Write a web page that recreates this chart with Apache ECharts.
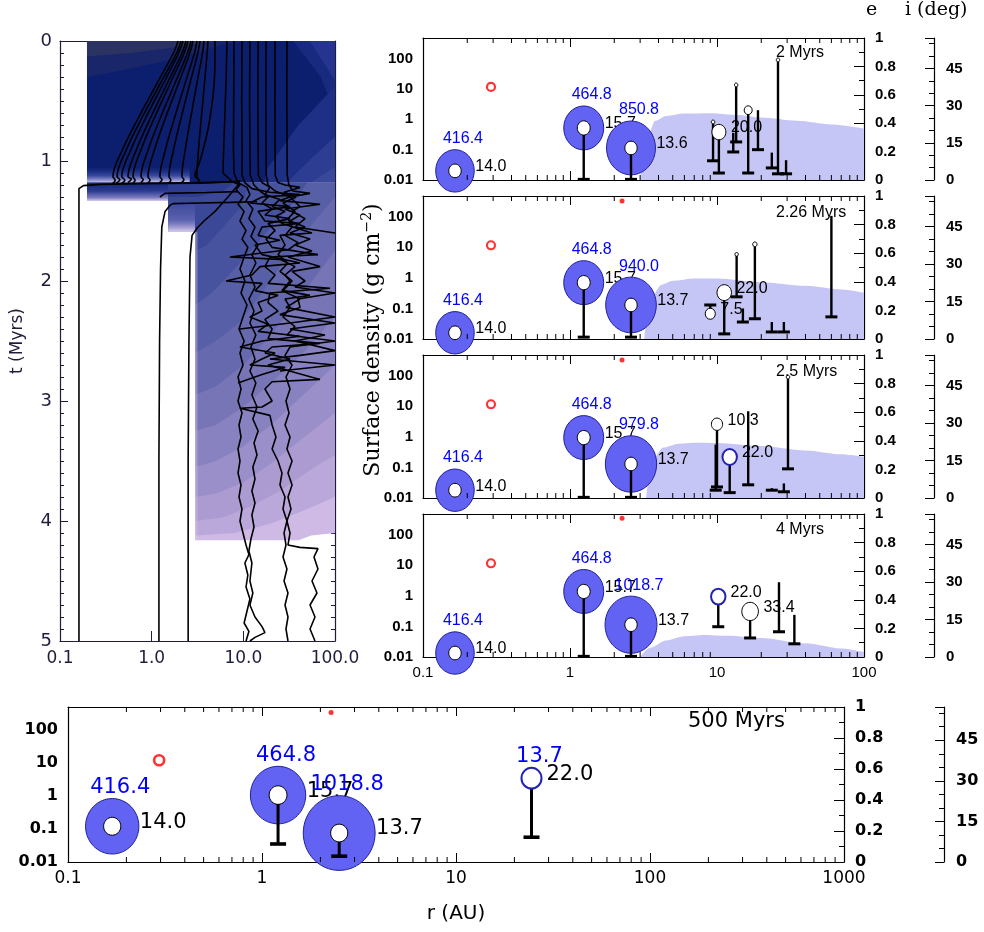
<!DOCTYPE html>
<html><head><meta charset="utf-8">
<script src="https://cdn.jsdelivr.net/npm/echarts/dist/echarts.min.js"></script>
<style>html,body{margin:0;padding:0;background:#fff}#c{width:984px;height:932px}</style>
</head><body><div id="c"></div>
<script>
// ---------------- DATA ----------------
// Left panel: planet tracks, [r (AU), t (Myrs)]
const curveTracks = [
 [[1.94,0],[1.73,0.1],[1.15,0.35],[0.705,0.65],[0.484,0.9],[0.378,1.13],[0.40,1.16],[0.37,1.19]],
 [[2.09,0],[1.87,0.1],[1.25,0.35],[0.77,0.65],[0.533,0.9],[0.419,1.13],[0.45,1.155],[0.41,1.185]],
 [[2.20,0],[1.97,0.1],[1.35,0.35],[0.849,0.65],[0.598,0.9],[0.472,1.13],[0.51,1.16],[0.47,1.185]],
 [[2.37,0],[2.14,0.1],[1.485,0.35],[0.959,0.65],[0.687,0.9],[0.552,1.13],[0.60,1.15],[0.55,1.18]],
 [[2.49,0],[2.26,0.1],[1.60,0.35],[1.057,0.65],[0.77,0.9],[0.626,1.13],[0.66,1.16],[0.62,1.185]],
 [[2.69,0],[2.46,0.1],[1.80,0.35],[1.23,0.65],[0.923,0.9],[0.765,1.13],[0.81,1.155],[0.76,1.18]],
 [[2.82,0],[2.61,0.1],[1.97,0.35],[1.40,0.65],[1.08,0.9],[0.912,1.13],[0.96,1.16],[0.90,1.185]],
 [[3.12,0],[2.93,0.1],[2.32,0.35],[1.76,0.65],[1.42,0.9],[1.23,1.13],[1.30,1.155],[1.22,1.18]],
 [[3.37,0],[3.19,0.1],[2.62,0.35],[2.08,0.65],[1.74,0.9],[1.545,1.13],[1.62,1.16],[1.53,1.185]],
 [[3.72,0],[3.59,0.1],[3.12,0.35],[2.65,0.65],[2.33,0.9],[2.14,1.13],[2.25,1.155],[2.12,1.18]],
 [[4.11,0],[4.03,0.1],[3.77,0.35],[3.47,0.65],[3.25,0.9],[3.12,1.13],[3.30,1.16],[3.10,1.19]],
 [[4.91,0],[4.85,0.3],[4.20,0.7],[3.37,1.0],[2.97,1.12],[3.20,1.15]]
];
const trackA = [[6.63,0],[6.5,0.3],[6.3,0.6],[6.1,0.9],[6.0,1.1],[7.52,1.17],[9.19,1.2],[8.32,1.24],[9.92,1.3],[8.75,1.36],[10.2,1.42],[9.19,1.5],[10.7,1.58],[9.67,1.65],[11.2,1.72],[10.2,1.8],[9.19,1.9],[10.4,2.0],[9.43,2.1],[10.97,2.2],[9.92,2.3],[8.97,2.4],[10.2,2.5],[9.19,2.6],[9.92,2.7],[8.75,2.8],[9.43,2.9],[8.75,3.0],[9.67,3.1],[8.97,3.2],[9.43,3.3],[8.75,3.4],[9.19,3.5],[8.75,3.6],[9.43,3.7],[8.97,3.8],[9.67,3.9],[9.19,4.0],[9.92,4.1],[10.7,4.2],[11.5,4.28],[10.4,4.35],[11.2,4.45],[10.7,4.55],[11.8,4.65],[10.97,4.75],[10.2,4.85],[11.5,4.92],[10.7,5.0]];
const trackB = [[7.91,0],[7.85,0.5],[7.8,0.9],[7.91,1.1],[8.75,1.18],[10.97,1.22],[11.8,1.28],[10.7,1.33],[12.7,1.4],[11.5,1.48],[13.4,1.55],[12.1,1.63],[14.5,1.7],[12.4,1.78],[13.7,1.85],[11.8,1.95],[13.4,2.05],[11.5,2.15],[13.07,2.25],[11.8,2.35],[13.7,2.45],[12.1,2.55],[13.4,2.65],[11.8,2.75],[13.7,2.85],[12.4,2.95],[14.1,3.05],[12.7,3.15],[14.5,3.25],[13.07,3.35],[14.1,3.45],[12.7,3.55],[13.4,3.65],[12.4,3.75],[13.4,3.85],[12.4,3.95],[13.07,4.05],[12.1,4.15],[11.5,4.25],[12.4,4.35],[11.8,4.5],[12.7,4.6],[11.8,4.7],[13.4,4.8],[16.0,4.88],[17.2,4.93],[13.4,4.97],[11.8,5.0]];
const trackC = [[9.67,0],[9.6,0.5],[9.7,0.9],[9.67,1.12],[10.4,1.18],[12.4,1.23],[19.5,1.26],[41.5,1.28],[16.0,1.3],[11.8,1.35],[32.3,1.38],[14.5,1.42],[17.2,1.5],[41.5,1.52],[16.0,1.55],[14.5,1.62],[25.1,1.66],[13.4,1.7],[16.0,1.78],[41.5,1.85],[15.2,1.88],[12.4,1.95],[6.47,2.0],[16.0,2.02],[13.4,2.08],[23.9,2.12],[14.5,2.18],[16.0,2.25],[11.8,2.3],[18.6,2.36],[14.5,2.42],[41.5,2.46],[16.0,2.5],[9.19,2.55],[22.2,2.6],[16.0,2.65],[11.8,2.7],[28.5,2.72],[16.0,2.78],[8.75,2.85]];
const trackD = [[11.8,0],[11.7,0.5],[11.8,0.9],[11.9,1.12],[13.07,1.2],[15.2,1.25],[18.6,1.3],[16.0,1.35],[20.6,1.4],[17.2,1.45],[32.3,1.48],[18.6,1.52],[22.2,1.58],[17.7,1.65],[20.6,1.72],[65.2,1.78],[19.5,1.8],[17.2,1.88],[22.2,1.95],[18.6,2.02],[88.2,2.06],[19.5,2.1],[18.6,2.18],[23.9,2.25],[17.2,2.32],[20.6,2.4],[18.6,2.48],[68.6,2.52],[20.6,2.55],[17.2,2.6],[32.3,2.65],[18.6,2.7],[68.6,2.82],[20.6,2.84],[17.2,2.9],[20.6,3.0],[16.0,3.05],[9.19,3.06],[19.5,3.12],[20.6,3.2],[22.7,3.3],[20.6,3.4],[23.9,3.5],[26.4,3.6],[25.1,3.7],[28.5,3.8],[27.1,3.9],[29.9,4.0],[27.8,4.1],[29.2,4.2],[27.1,4.3],[29.9,4.4],[27.8,4.5],[30.7,4.6],[28.5,4.7],[30.7,4.8],[29.2,4.9],[30.7,5.0]];
const trackE = [[14.5,0],[14.4,0.5],[14.5,0.9],[14.6,1.12],[16.0,1.18],[19.5,1.22],[17.2,1.28],[25.1,1.32],[20.6,1.38],[28.5,1.42],[22.7,1.46],[26.4,1.52],[56.1,1.6],[25.1,1.62],[28.5,1.7],[23.9,1.78],[30.7,1.85],[25.1,1.92],[34.0,2.0],[27.1,2.08],[53.4,2.12],[28.5,2.15],[32.3,2.22],[27.1,2.3],[36.6,2.38],[29.9,2.45],[100,2.5],[32.3,2.55],[28.5,2.62],[34.0,2.7],[29.2,2.8],[32.3,2.9],[29.2,3.0],[31.5,3.1],[28.5,3.2],[32.3,3.3],[29.9,3.4],[34.0,3.5],[30.7,3.6],[34.0,3.7],[30.7,3.8],[33.1,3.9],[29.9,4.0],[32.3,4.1],[30.7,4.2],[41.5,4.22],[65.2,4.23],[59.0,4.3],[65.2,4.4],[56.1,4.5],[63.6,4.6],[53.4,4.7],[60.5,4.8],[53.4,4.9],[60.5,5.0]];
const trackF = [[17.7,0],[17.6,0.5],[17.7,0.9],[17.8,1.12],[18.6,1.2],[22.2,1.25],[32.3,1.3],[25.1,1.33],[68.6,1.36],[28.5,1.4],[41.5,1.45],[32.3,1.5],[47.1,1.55],[32.3,1.6],[53.4,1.65],[36.6,1.7],[56.1,1.75],[30.7,1.8],[68.6,1.88],[34.0,1.92],[47.1,2.0],[36.6,2.05],[100,2.1],[39.5,2.15],[41.5,2.22],[25.1,2.28],[100,2.35],[32.3,2.4],[77.8,2.45],[36.6,2.5],[100,2.58],[41.5,2.62],[19.5,2.65],[100,2.7],[25.1,2.75]];
const trackG = [[22.2,0],[22.1,0.5],[22.2,0.9],[22.3,1.12],[23.9,1.18],[28.5,1.2],[41.5,1.22],[27.8,1.26],[37.5,1.3],[27.1,1.35],[36.6,1.42],[30.7,1.48],[34.0,1.55],[28.5,1.62],[39.5,1.68],[30.7,1.74],[7.15,1.8],[25.1,1.82],[36.6,1.88],[28.5,1.95],[32.3,2.0],[26.4,2.08],[41.5,2.15],[29.2,2.22],[100,2.3],[32.3,2.35],[9.19,2.4]];
const trackH = [[29.9,0],[29.8,0.5],[30.0,0.9],[30.1,1.12],[31.5,1.2],[34.8,1.25],[53.4,1.27],[32.3,1.3],[41.5,1.38],[34.0,1.42],[47.1,1.48],[36.6,1.55],[100,1.6]];
const hotTrack = [[9.19,1.17],[3.37,1.185],[0.6,1.19],[0.273,1.195],[0.18,1.205],[0.161,1.23],[0.161,5]];
const linkTrack = [[0.37,1.19],[1.0,1.185],[3.0,1.18],[7.5,1.175]];
const innerGiantTrack = [[14.1,1.34],[7.15,1.345],[3.37,1.35],[1.71,1.355],[1.58,1.37],[1.40,1.42],[1.29,1.55],[1.25,1.9],[1.22,2.5],[1.20,3.5],[1.20,5]];
const outerGiantTrack = [[9.19,1.16],[8.75,1.2],[6.8,1.3],[4.91,1.42],[3.72,1.5],[3.12,1.56],[2.76,1.62],[2.62,1.8],[2.55,2.5],[2.5,3.5],[2.5,5]];
const scatterTrack = [[1.23,1.3],[1.4,1.27],[4.0,1.262],[8.75,1.255]];

// Left panel: surface-density field regions, [r, t]
const fieldTop = [[0.197,0],[100,0],[100,1.18],[0.197,1.18]];
const fieldTopGrayOuter = [[0.197,0],[10,0],[6,0.03],[3,0.1],[1.2,0.18],[0.5,0.24],[0.197,0.3]];
const fieldTopGrayInner = [[0.197,0],[5,0],[3,0.025],[1.5,0.06],[0.6,0.1],[0.197,0.13]];
const fieldTopRight1 = [[35,0],[100,0],[100,0.6],[70,0.3]];
const fieldTopRight2 = [[53,0],[100,0],[100,0.33]];
const fieldBR1 = [[17,1.18],[18,1.07],[40,0.7],[100,0.38],[100,1.18]];
const fieldBR2 = [[30,1.18],[55,0.98],[100,0.8],[100,1.18]];
const fieldBR3 = [[55,1.18],[100,1.05],[100,1.18]];
const fieldTopEdge = [[0.197,1.05],[2.6,1.05],[2.6,1.18],[0.197,1.18]];
const fieldStrip = [[0.197,1.18],[1.51,1.18],[1.51,1.333],[0.197,1.333]];
const fieldLower = [[1.51,1.18],[100,1.18],[100,4.1],[55,4.12],[40,4.16],[1.51,4.16]];
const fieldContours = [
 [[2.97,4.12],[8,4.1],[20,4.02],[50,3.9],[100,3.8]],
 [[2.97,4.0],[6,3.97],[12,3.88],[25,3.75],[60,3.55],[100,3.45]],
 [[2.97,3.8],[5,3.77],[10,3.68],[20,3.52],[50,3.28],[100,3.1]],
 [[2.97,3.55],[5,3.5],[10,3.38],[20,3.2],[45,2.95],[100,2.7]],
 [[2.97,3.25],[5,3.2],[10,3.05],[20,2.85],[45,2.6],[100,2.3]],
 [[2.97,2.95],[5,2.88],[10,2.7],[20,2.45],[40,2.15],[100,1.75]],
 [[2.97,2.6],[5,2.5],[9,2.35],[16,2.1],[30,1.8],[60,1.5],[100,1.3]],
 [[2.97,2.2],[4.5,2.1],[7,1.95],[12,1.75],[20,1.55],[35,1.35],[50,1.18]],
 [[2.97,1.75],[4,1.7],[6,1.55],[9,1.4],[12,1.18]],
 [[1.51,1.3],[3,1.3],[6,1.25],[8,1.18]]
];
const fieldStep = [[1.51,1.333],[2.97,1.333],[2.97,1.59],[1.51,1.59]];
const fieldLeftHalo = [[2.97,1.59],[3.25,1.59],[3.25,4.16],[2.97,4.16]];
const fieldNotch = [[1.3,1.59],[2.97,1.59],[2.97,4.6],[1.3,4.6]];

// Right panels: planets [r (AU), surface density, stem end, envelope mass, core mass]
const planets2 = [
 [0.165,0.020,null,416.4,14.0],[1.24,0.52,0.0105,464.8,15.7],[2.6,0.114,0.0105,850.8,13.6],
 [9.4,0.82,0.043,0,0.3],[10.3,0.38,0.017,0,20.0],[12.9,0.36,0.084,0,0],[13.5,13.6,0.18,0,0.3],
 [16.3,2.0,0.017,0,3.7],[19.0,2.0,0.10,0,0],[23.6,0.08,0.025,0,0],[26.0,91,0.016,0,0.3],[29.5,0.045,0.016,0,0]
];
const planets226 = [
 [0.165,0.016,null,416.4,14.0],[1.24,0.70,0.0115,464.8,15.7],[2.6,0.13,0.0115,940.0,13.7],
 [9.0,0.067,0.13,0,7.5],[11.2,0.33,0.0147,0,22.0],[13.6,5.9,0.24,0,0.3],[15.0,0.1,0.036,0,0],
 [18.1,12.6,0.046,0,0.6],[23.6,0.036,0.017,0,0],[28.5,0.036,0.017,0,0],[60,107,0.053,0,0]
];
const planets25 = [
 [0.165,0.018,null,416.4,14.0],[1.24,0.95,0.0105,464.8,15.7],[2.6,0.13,0.0105,979.8,13.7],
 [9.8,0.56,0.018,0,0],[10.0,2.6,0.023,0,10.3],[12.2,0.22,0.015,2.0,22.0],[16.3,6.9,0.027,0,0],
 [23.6,0.021,0.018,0,0],[28.5,0.03,0.016,0,0],[30.4,91,0.09,0,0.3]
];
const planets4 = [
 [0.165,0.0135,null,416.4,14.0],[1.24,1.4,0.0105,464.8,15.7],[2.6,0.114,0.0105,1018.7,13.7],
 [10.2,0.95,0.098,2.0,22.0],[16.8,0.31,0.042,0,33.4],[26.4,2.8,0.067,0,0],[33.6,0.24,0.027,0,0]
];
const planets500 = [
 [0.169,0.12,null,416.4,14.0],[1.21,1.05,0.035,464.8,15.7],[2.5,0.075,0.015,1018.8,13.7],[24.5,3.4,0.056,13.7,22.0]
];
// Gas surface density profiles [r, sigma]
const gas2 = [[3.0,0.01],[3.15,0.05],[3.4,0.3],[3.8,0.9],[4.5,1.3],[6,1.55],[9,1.6],[14,1.4],[20,1.15],[35,0.9],[60,0.68],[100,0.5]];
const gas226 = [[3.2,0.01],[3.35,0.05],[3.6,0.25],[4.2,0.6],[5,0.8],[7,0.95],[10,0.95],[20,0.72],[40,0.55],[70,0.42],[100,0.33]];
const gas25 = [[3.3,0.01],[3.45,0.05],[3.7,0.2],[4.3,0.45],[5.5,0.6],[7,0.64],[10,0.63],[20,0.5],[40,0.36],[70,0.27],[100,0.22]];
const gas4 = [[3.0,0.01],[3.5,0.02],[4.5,0.035],[6,0.048],[8,0.053],[12,0.05],[20,0.042],[40,0.028],[70,0.019],[100,0.0145]];
const iceRing = [[0.29,11.7]];
const iceRing500 = [[0.295,11.8]];
const redDot226 = [[2.26,330]], redDot25 = [[2.26,330]], redDot4 = [[2.26,350]], redDot500 = [[2.27,330]];
const panelTimes = ['2 Myrs','2.26 Myrs','2.5 Myrs','4 Myrs','500 Myrs'];

// ---------------- CHART ----------------
const SANS = 'Liberation Sans';
const WIDE = 'DejaVu Sans';
const SERIF = 'DejaVu Serif';
const LEFTC = '#1e1e3c';
const chart = echarts.init(document.getElementById('c'), null, {renderer:'canvas'});
const LG = (stops, h) => new echarts.graphic.LinearGradient(0,0,h?1:0,h?0:1, stops.map(c => ({offset:c[0], color:c[1]})));

const grids = [
 {left:60, top:41, width:275, height:600},
 {left:423, top:38, width:441, height:142},
 {left:423, top:196, width:441, height:143},
 {left:423, top:355, width:441, height:143},
 {left:423, top:514, width:441, height:143},
 {left:68, top:707, width:776, height:155}
].map(g => Object.assign({containLabel:false, outerBoundsMode:'none'}, g));

const decadeLabel = v => { const e = Math.round(Math.log10(v)); return e < 0 ? (e === -1 ? '0.1' : '0.01') : String(Math.pow(10, e)); };
const decadeOnly = v => { const l = Math.log10(v); return Math.abs(l - Math.round(l)) > 1e-6 ? '' : decadeLabel(v); };
const line = (c, w) => ({show:true, onZero:false, lineStyle:{color:c, width:w || 1.2}});

const xAxes = [], yAxes = [];
// left panel
xAxes.push({gridIndex:0, type:'log', min:0.1, max:100, position:'bottom', axisLine:line(LEFTC),
  axisTick:{show:true, inside:true, length:10, lineStyle:{color:LEFTC}}, splitLine:{show:false},
  axisLabel:{margin:9, color:LEFTC, fontFamily:WIDE, fontSize:17,
    formatter: v => ({'-1':'0.1','0':'1.0','1':'10.0','2':'100.0'})[Math.round(Math.log10(v))] || ''}});
xAxes.push({gridIndex:0, type:'log', min:0.1, max:100, position:'top', axisLine:line(LEFTC),
  axisTick:{show:true, inside:true, length:10, lineStyle:{color:LEFTC}}, axisLabel:{show:false}, splitLine:{show:false}});
yAxes.push({gridIndex:0, type:'value', inverse:true, min:0, max:5, interval:1, position:'left', axisLine:line(LEFTC),
  axisTick:{show:true, inside:true, length:8, lineStyle:{color:LEFTC}}, minorTick:{show:true, splitNumber:10, length:4, lineStyle:{color:LEFTC}},
  splitLine:{show:false}, minorSplitLine:{show:false},
  axisLabel:{margin:8, color:LEFTC, fontFamily:WIDE, fontSize:18},
  name:'t (Myrs)', nameLocation:'middle', nameGap:34, nameRotate:90, nameTextStyle:{color:LEFTC, fontFamily:WIDE, fontSize:17}});
yAxes.push({gridIndex:0, type:'value', inverse:true, min:0, max:5, interval:1, position:'right', axisLine:line(LEFTC),
  axisTick:{show:true, inside:true, length:8, lineStyle:{color:LEFTC}}, minorTick:{show:true, splitNumber:10, length:4, lineStyle:{color:LEFTC}},
  splitLine:{show:false}, axisLabel:{show:false}});

function addPanelAxes(g, xmax, bottomLabels, big, iOffset) {
  const fs = big ? 16 : 15;
  const fam = big ? WIDE : SANS;
  xAxes.push({gridIndex:g, type:'log', min:0.1, max:xmax, position:'bottom', axisLine:line('#000'),
    axisTick:{show:true, inside:true, length:9, lineStyle:{color:'#000'}}, splitLine:{show:false},
    axisLabel:{show:bottomLabels, margin:8, color:'#000', fontFamily:fam, fontSize:big?17:15, formatter:decadeLabel},
    name: big ? 'r (AU)' : '', nameLocation:'middle', nameGap:42, nameTextStyle:{color:'#000', fontFamily:WIDE, fontSize:20}});
  xAxes.push({gridIndex:g, type:'log', min:0.1, max:xmax, position:'top', axisLine:line('#000'),
    axisTick:{show:true, inside:true, length:9, lineStyle:{color:'#000'}}, axisLabel:{show:false}, splitLine:{show:false}});
  yAxes.push({gridIndex:g, type:'log', min:0.01, max:480, position:'left', axisLine:line('#000'),
    axisTick:{show:false}, splitLine:{show:false},
    axisLabel:{margin:10, color:'#000', fontFamily:fam, fontSize:fs, fontWeight:'bold', formatter:decadeOnly}});
  yAxes.push({gridIndex:g, type:'value', min:0, max:1, interval:0.2, position:'right', axisLine:line('#000'),
    axisTick:{show:true, inside:true, length:10, lineStyle:{color:'#000'}}, minorTick:{show:true, splitNumber:2, length:5, lineStyle:{color:'#000'}},
    splitLine:{show:false}, minorSplitLine:{show:false},
    axisLabel:{margin:11, color:'#000', fontFamily:fam, fontSize:fs, fontWeight:'bold', formatter: v => String(+(+v).toFixed(1))}});
  yAxes.push({gridIndex:g, type:'value', min:0, max:57.3, interval:15, position:'right', offset:iOffset, axisLine:line('#000'),
    axisTick:{show:true, inside:true, length:9, lineStyle:{color:'#000'}}, minorTick:{show:true, splitNumber:3, length:5, lineStyle:{color:'#000'}},
    splitLine:{show:false}, minorSplitLine:{show:false},
    axisLabel:{margin:12, color:'#000', fontFamily:fam, fontSize:fs, fontWeight:'bold',
      formatter: v => Math.abs(v - Math.round(v/15)*15) < 1e-6 ? String(Math.round(v)) : ''}});
}
addPanelAxes(1, 100, false, false, 70);
addPanelAxes(2, 100, false, false, 70);
addPanelAxes(3, 100, false, false, 70);
addPanelAxes(4, 100, true, false, 70);
addPanelAxes(5, 1000, true, true, 100);

const series = [];
// ---- left panel field ----
const fieldLayers = [
 {pts:fieldTop, fill:'#0c1f6f'},
 {pts:fieldTopGrayOuter, fill:'#1a266a'},
 {pts:fieldTopGrayInner, fill:'#2b3363'},
 {pts:fieldTopRight1, fill:'#172a7e'},
 {pts:fieldTopRight2, fill:'#24348f'},
 {pts:fieldBR1, fill:'#1e3086'},
 {pts:fieldBR2, fill:'#2c3d92'},
 {pts:fieldBR3, fill:'#3a489a'},
 {pts:fieldTopEdge, fill:LG([[0,'rgba(40,58,150,0)'],[0.55,'rgba(70,85,175,0.75)'],[1,'rgba(205,196,234,1)']])},
 {pts:fieldStrip, fill:LG([[0,'#16287b'],[0.45,'#28398e'],[0.82,'#7c7cc0'],[1,'#d8caec']])},
 {pts:fieldLower, fill:'#cfb9e5'}
];
const contourFills = ['#bba8da','#ab9bd1','#9a8fc8','#8982c0','#7875b7','#6769ae','#575fa6','#48539f','#3b4898','#2d3c90'];
fieldContours.forEach((c, i) => {
  const last = c[c.length-1];
  const pts = [[1.51, c[0][1]]].concat(c, [[last[0], 1.18], [1.51, 1.18]]);
  fieldLayers.push({pts:pts, fill:contourFills[i]});
});
fieldLayers.push({pts:fieldStep, fill:LG([[0,'rgba(120,120,195,0)'],[0.6,'rgba(130,128,200,0.45)'],[1,'rgba(218,204,238,1)']])});
fieldLayers.push({pts:fieldLeftHalo, fill:LG([[0,'rgba(218,204,238,0.6)'],[1,'rgba(218,204,238,0)']], true)});
fieldLayers.push({pts:fieldNotch, fill:'#ffffff'});
series.push({type:'custom', xAxisIndex:0, yAxisIndex:0, silent:true, clip:true, z:1,
  data: fieldLayers.map(l => l.pts[0]),
  renderItem: (params, api) => {
    const l = fieldLayers[params.dataIndex];
    return {type:'polygon', shape:{points: l.pts.map(p => api.coord(p))}, style:{fill:l.fill}};
  }});
// ---- left panel tracks ----
const addTrack = (d, smooth) => series.push({type:'line', xAxisIndex:0, yAxisIndex:0, data:d, symbol:'none', smooth:smooth||false,
  lineStyle:{color:'#000', width:1.6}, silent:true, z:4, clip:true, animation:false});
curveTracks.forEach(t => addTrack(t, 0.35));
[trackA, trackB, trackC, trackD, trackE, trackF, trackG, trackH, hotTrack, linkTrack, innerGiantTrack, outerGiantTrack, scatterTrack].forEach(t => addTrack(t));

// ---- right panels ----
function minorTicks(xi, yi, xmax, len) {
  const vals = [];
  for (let d = 0.1; d < xmax * 0.99; d *= 10) for (let k = 2; k <= 9; k++) vals.push([d * k, 1]);
  return {type:'custom', xAxisIndex:xi, yAxisIndex:yi, silent:true, z:10, clip:false, data:vals,
    renderItem: (params, api) => {
      const x = api.coord([api.value(0), 1])[0];
      const cs = params.coordSys;
      const st = {stroke:'#000', lineWidth:1};
      return {type:'group', children:[
        {type:'line', shape:{x1:x, y1:cs.y, x2:x, y2:cs.y+len}, style:st},
        {type:'line', shape:{x1:x, y1:cs.y+cs.height, x2:x, y2:cs.y+cs.height-len}, style:st}]};
    }};
}
function planetSeries(xi, yi, list, scale, aspect, fam, fs, barHalf, stemW, labelLift) {
  return {type:'custom', xAxisIndex:xi, yAxisIndex:yi, clip:false, silent:true, z:6,
    data: list.map(p => [p[0], p[1]]),
    renderItem: (params, api) => {
      const p = list[params.dataIndex];
      const r = p[0], s = p[1], stemEnd = p[2], env = p[3], core = p[4];
      const c = api.coord([r, s]);
      const envR = env > 0 ? scale * Math.cbrt(env) : 0;
      const coreR = core > 0 ? scale * Math.cbrt(core) : 0;
      const ring = env > 0 && envR <= coreR + 1;
      const kids = [];
      if (env > 0 && !ring) kids.push({type:'ellipse', shape:{cx:c[0], cy:c[1], rx:envR, ry:envR*aspect}, style:{fill:'#6363f3', stroke:'#20209a', lineWidth:1}});
      if (stemEnd != null) {
        const e = api.coord([r, stemEnd]);
        kids.push({type:'line', shape:{x1:c[0], y1:c[1], x2:e[0], y2:e[1]}, style:{stroke:'#000', lineWidth:stemW}});
        kids.push({type:'line', shape:{x1:e[0]-barHalf, y1:e[1], x2:e[0]+barHalf, y2:e[1]}, style:{stroke:'#000', lineWidth:stemW+0.6}});
      }
      if (core > 0) kids.push({type:'ellipse', shape:{cx:c[0], cy:c[1], rx:coreR, ry:coreR*aspect},
        style:{fill:'#fff', stroke: ring ? '#2323b0' : '#000', lineWidth: ring ? 2 : 1}});
      const outer = Math.max(envR, coreR);
      if (env >= 10) kids.push({type:'text', x:c[0]+8, y:c[1]-outer*aspect-labelLift,
        style:{text:env.toFixed(1), fill:'#0000ff', fontFamily:fam, fontSize:fs, align:'center', verticalAlign:'middle'}});
      if (core >= 5) kids.push({type:'text', x:c[0]+Math.max(envR, coreR+4)+1, y:c[1]-4,
        style:{text:core.toFixed(1), fill:'#000', fontFamily:fam, fontSize:fs, align:'left', verticalAlign:'middle'}});
      return {type:'group', children:kids};
    }};
}
const panelSets = [
 {g:1, planets:planets2, gas:gas2, dot:null, ring:iceRing},
 {g:2, planets:planets226, gas:gas226, dot:redDot226, ring:iceRing},
 {g:3, planets:planets25, gas:gas25, dot:redDot25, ring:iceRing},
 {g:4, planets:planets4, gas:gas4, dot:redDot4, ring:iceRing},
 {g:5, planets:planets500, gas:null, dot:redDot500, ring:iceRing500}
];
panelSets.forEach(ps => {
  const xi = 2 * ps.g, yi = 2 + 3 * (ps.g - 1);
  const big = ps.g === 5;
  if (ps.gas) series.push({type:'line', xAxisIndex:xi, yAxisIndex:yi, data:ps.gas, symbol:'none', smooth:0.3, smoothMonotone:'x',
    lineStyle:{width:0}, areaStyle:{color:'#c6c6f6', opacity:1, origin:'start'}, silent:true, z:1});
  series.push({type:'scatter', xAxisIndex:xi, yAxisIndex:yi, data:ps.ring, symbol:'circle', symbolSize: big ? 10 : 8,
    itemStyle:{color:'#fff', borderColor:'#f00', borderWidth: big ? 2.6 : 2.2}, silent:true, z:3});
  if (ps.dot) series.push({type:'scatter', xAxisIndex:xi, yAxisIndex:yi, data:ps.dot, symbol:'circle', symbolSize:5,
    itemStyle:{color:'#f00'}, silent:true, z:3});
  series.push(planetSeries(xi, yi, ps.planets, big ? 3.57 : 2.58, big ? 1.04 : 1.1, big ? WIDE : SANS, big ? 21 : 16, big ? 8 : 6, big ? 3 : 2.4, big ? 11 : 11));
  series.push(minorTicks(xi, yi, big ? 1000 : 100, 5));
});

const titleTops = [45, 205, 364, 522, 711];
const titles = panelTimes.map((t, i) => ({text:t, left: i === 4 ? 688 : 776, top:titleTops[i], padding:0,
  textStyle:{fontFamily: i === 4 ? WIDE : SANS, fontSize: i === 4 ? 21 : 16, fontWeight:'normal', color:'#000'}}));
titles.push({text:'e', left:866, top:1, padding:0, textStyle:{fontFamily:SERIF, fontSize:19, fontWeight:'normal', color:'#000'}});
titles.push({text:'i (deg)', left:905, top:1, padding:0, textStyle:{fontFamily:SERIF, fontSize:19, fontWeight:'normal', color:'#000'}});

chart.setOption({
  animation:false,
  backgroundColor:'#ffffff',
  title: titles,
  grid: grids,
  xAxis: xAxes,
  yAxis: yAxes,
  series: series,
  graphic: [{type:'text', x:373, y:340, rotation:Math.PI/2, silent:true,
    style:{text:'{a|Surface density (g cm}{s|−2}{a|)}', align:'center', verticalAlign:'middle',
      rich:{a:{fontFamily:SERIF, fontSize:22, fill:'#000'}, s:{fontFamily:SERIF, fontSize:14, fill:'#000', verticalAlign:'top', padding:[0,0,11,0]}}}}]
});
</script></body></html>
